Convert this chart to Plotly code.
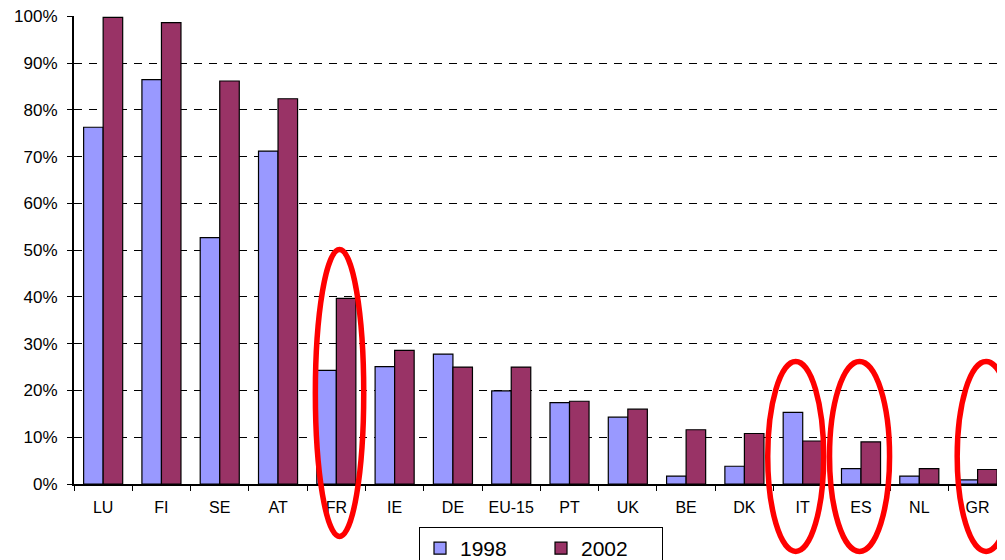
import plotly.graph_objects as go

categories = ["LU", "FI", "SE", "AT", "FR", "IE", "DE", "EU-15", "PT", "UK",
              "BE", "DK", "IT", "ES", "NL", "GR"]
v1998 = [76.3, 86.5, 52.7, 71.2, 24.3, 25.1, 27.8, 19.9, 17.4, 14.3,
         1.7, 3.8, 15.3, 3.3, 1.7, 0.9]
v2002 = [99.8, 98.7, 86.2, 82.4, 39.7, 28.6, 25.0, 25.0, 17.7, 16.0,
         11.6, 10.8, 9.2, 9.0, 3.3, 3.1]
series_names = ["1998", "2002"]
ytick_vals = list(range(0, 101, 10))
ytick_text = [f"{v}%" for v in ytick_vals]

# highlighted categories (ellipses): (x0, x1, y0, y1) in category units / paper
ellipses = [
    (3.64, 4.47, -0.112, 0.501),
    (11.40, 12.36, -0.144, 0.262),
    (12.46, 13.49, -0.144, 0.262),
    (14.65, 15.64, -0.144, 0.262),
]

FONT = "Liberation Sans, Arial, sans-serif"

fig = go.Figure()
fig.add_trace(go.Bar(x=categories, y=v1998, name=series_names[0],
                     marker=dict(color="#9999FF", line=dict(color="black", width=1.2))))
fig.add_trace(go.Bar(x=categories, y=v2002, name=series_names[1],
                     marker=dict(color="#993366", line=dict(color="black", width=1.2))))

shapes = []
for x0, x1, y0, y1 in ellipses:
    shapes.append(dict(type="circle", xref="x", yref="paper", x0=x0, x1=x1, y0=y0, y1=y1,
                       line=dict(color="#FF0000", width=5.5), layer="above"))

# page body has an 8px margin, so the figure is offset by 8px
fig.update_layout(
    width=997, height=552,
    margin=dict(l=66, r=0, t=8, b=76, autoexpand=False),
    paper_bgcolor="white", plot_bgcolor="white",
    barmode="group", bargap=0.33, bargroupgap=0,
    font=dict(family=FONT, color="black"),
    shapes=shapes,
    showlegend=True,
    legend=dict(orientation="h", x=(419 - 74) / 931, xanchor="left",
                y=-0.0919, yanchor="top",
                bordercolor="black", borderwidth=1, bgcolor="white",
                font=dict(size=21, family=FONT), entrywidth=76,
                itemwidth=30),
    xaxis=dict(type="category", range=[-0.5, 15.47], automargin=False,
               showline=True, linecolor="black", linewidth=2,
               ticks="outside", ticklen=5, tickcolor="black", tickson="boundaries",
               tickfont=dict(size=16, family=FONT), ticklabelstandoff=8,
               ticklabeloverflow="allow", showgrid=False),
    yaxis=dict(range=[0, 100.1], tickvals=ytick_vals, ticktext=ytick_text, automargin=False,
               showline=True, linecolor="black", linewidth=2,
               ticks="outside", ticklen=5, tickcolor="black",
               tickfont=dict(size=17, family=FONT), ticklabelstandoff=6,
               ticklabeloverflow="allow",
               showgrid=True, gridcolor="black", gridwidth=1, griddash="8px,7px",
               zeroline=False),
)

fig.write_html("out.html")
